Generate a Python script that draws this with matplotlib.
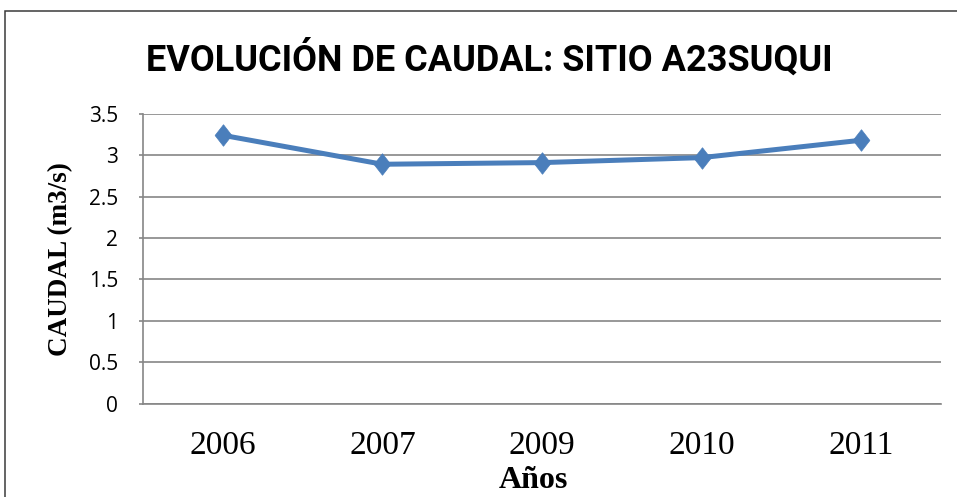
import matplotlib

matplotlib.use("Agg")
import matplotlib.pyplot as plt
from matplotlib.patches import Rectangle

# caudal medio anual por año de muestreo
years = ["2006", "2007", "2009", "2010", "2011"]
caudal = [3.24, 2.89, 2.91, 2.97, 3.18]
y_ticks = [0, 0.5, 1, 1.5, 2, 2.5, 3, 3.5]
y_tick_labels = ["0", "0.5", "1", "1.5", "2", "2.5", "3", "3.5"]

GRID = "#868686"
LINE = "#4A7EBB"
SERIF = ["Liberation Serif", "DejaVu Serif"]

fig = plt.figure(figsize=(9.57, 4.97), dpi=100)
ax = fig.add_axes([0.1494, 0.1877, 0.8339, 0.5835])

x = list(range(len(years)))
diamond = [(0, 1), (0.78, 0), (0, -1), (-0.78, 0), (0, 1)]
ax.plot(x, caudal, color=LINE, lw=3.6, marker=diamond, ms=15.5,
        mfc=LINE, mec=LINE, mew=0.5, solid_joinstyle="miter", zorder=3)

ax.set_xlim(-0.5, len(years) - 0.5)
ax.set_ylim(0, 3.5)
ax.set_yticks(y_ticks)
ax.set_yticklabels(y_tick_labels, family=["Open Sans", "DejaVu Sans"], fontsize=15)
ax.set_xticks(x)
ax.set_xticklabels(years, family=SERIF, fontsize=24)

ax.grid(axis="y", color=GRID, lw=1.2)
ax.set_axisbelow(True)
for side in ("top", "right"):
    ax.spines[side].set_visible(False)
for side in ("left", "bottom"):
    ax.spines[side].set_color(GRID)
    ax.spines[side].set_linewidth(1.2)
ax.tick_params(axis="y", length=3, color=GRID, width=1.2, pad=15)
ax.tick_params(axis="x", length=0, pad=19)

fig.text(0.5115, 0.857, "EVOLUCIÓN DE CAUDAL: SITIO A23SUQUI",
         family=["Roboto", "DejaVu Sans"], weight="bold",
         fontsize=26, ha="center", va="baseline")
fig.text(0.0637, 0.479, "CAUDAL (m3/s)", family=SERIF, weight="bold",
         fontsize=19.5, rotation=90, ha="center", va="center")
fig.text(0.557, 0.018, "Años", family=SERIF, weight="bold",
         fontsize=23, ha="center", va="baseline")

# marco exterior del gráfico
fig.add_artist(Rectangle((5 / 957, -0.1), 1.2, 1.1 - 11 / 497,
                         transform=fig.transFigure, fill=False,
                         ec="#3a3a3a", lw=1.1))

fig.savefig("out.png", dpi=100)
